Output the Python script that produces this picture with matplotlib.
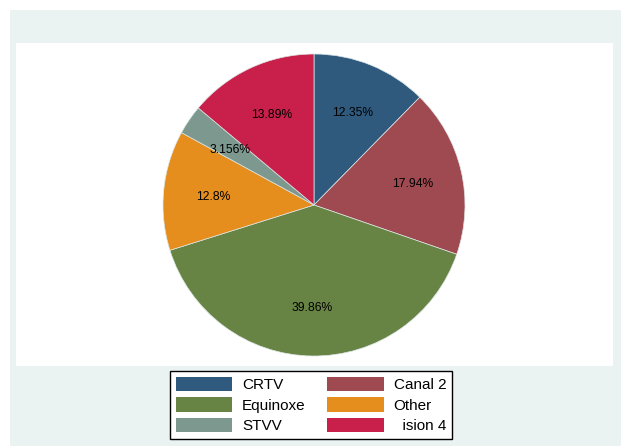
import matplotlib.pyplot as plt
import matplotlib.transforms as mtransforms
from matplotlib.patches import Rectangle, Patch

# -------------------------
# Data
# -------------------------

channels = ["CRTV", "Canal 2", "Equinoxe", "Other", "STVV", "  ision 4"]
shares = [12.35, 17.94, 39.86, 12.8, 3.156, 13.89]
pct_labels = ["12.35%", "17.94%", "39.86%", "12.8%", "3.156%", "13.89%"]

colors = ["#2F5A7E", "#9E4A50", "#688445", "#E58E1E", "#7D998F", "#C8204A"]

plt.rcParams["font.family"] = ["Liberation Sans", "DejaVu Sans"]

W, H = 621, 446
fig = plt.figure(figsize=(W / 100, H / 100), dpi=100)
fig.patch.set_facecolor("white")

# outer graph region
fig.patches.append(Rectangle((10 / W, 0), 1 - 10 / W, 1 - 10 / H,
                             transform=fig.transFigure, facecolor="#EAF2F2",
                             edgecolor="none", zorder=-5))

# inner plot region
bg = fig.add_axes([16 / W, 1 - 366 / H, (613 - 16) / W, (366 - 43) / H])
bg.set_facecolor("white")
bg.set_xticks([])
bg.set_yticks([])
for s in bg.spines.values():
    s.set_visible(False)

# -------------------------
# Pie
# -------------------------

r = 151
cx, cy = 314, 205
ax = fig.add_axes([(cx - r) / W, (H - cy - r) / H, 2 * r / W, 2 * r / H])
wedges, texts = ax.pie(
    shares,
    colors=colors,
    startangle=90,
    counterclock=False,
    labels=pct_labels,
    labeldistance=0.67,
    wedgeprops=dict(edgecolor="#DDE6E6", linewidth=0.5),
    textprops=dict(fontsize=8.7, color="black", ha="center", va="center"),
)
# nudge labels down slightly
shift = mtransforms.ScaledTranslation(0, -2 / 100, fig.dpi_scale_trans)
for t in texts:
    t.set_transform(t.get_transform() + shift)
ax.set_xlim(-1, 1)
ax.set_ylim(-1, 1)
ax.set_aspect("equal")
ax.axis("off")

# -------------------------
# Legend (row-major order, 2 columns)
# -------------------------

order = [0, 2, 4, 1, 3, 5]
handles = [Patch(facecolor=colors[i], edgecolor="none") for i in order]
labels = [channels[i] for i in order]
leg = fig.legend(
    handles,
    labels,
    loc="center",
    bbox_to_anchor=(311 / W, 1 - 405 / H),
    ncol=2,
    fontsize=11,
    frameon=True,
    fancybox=False,
    edgecolor="black",
    facecolor="white",
    framealpha=1,
    handlelength=3.7,
    handleheight=1.05,
    handletextpad=0.65,
    labelspacing=0.35,
    columnspacing=1.4,
    borderpad=0.35,
    borderaxespad=0,
)
leg.get_frame().set_linewidth(1.0)

fig.savefig("out.png", dpi=100)
